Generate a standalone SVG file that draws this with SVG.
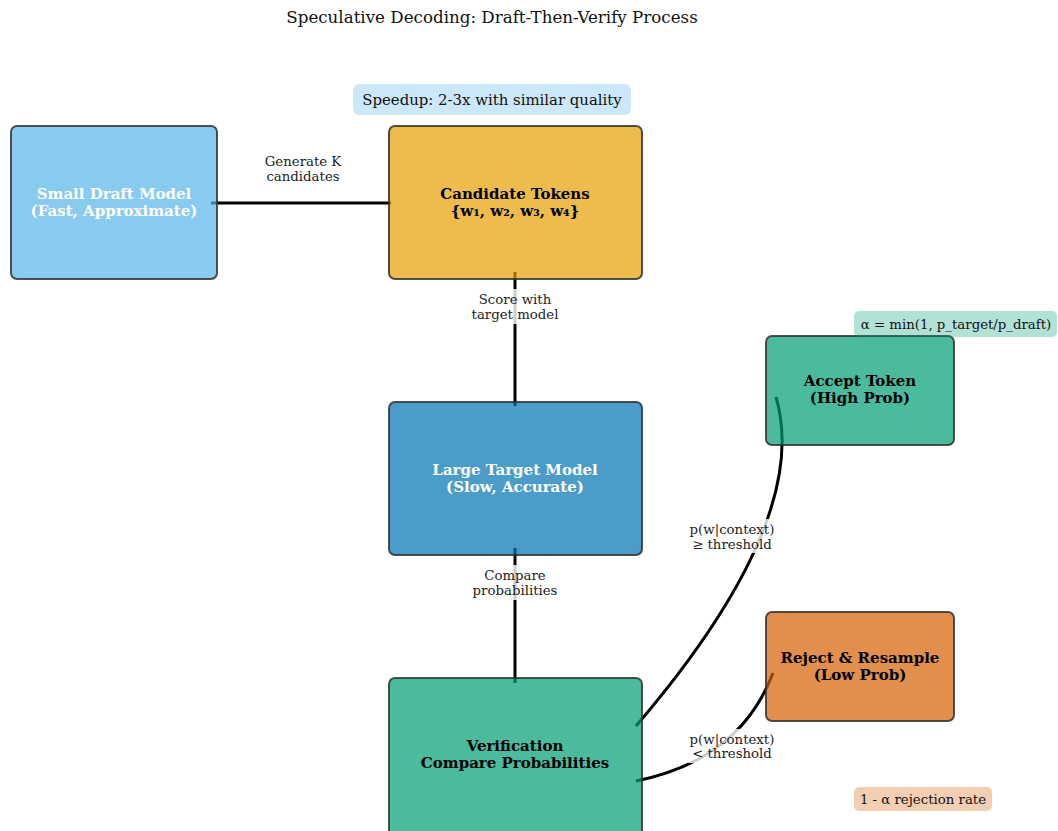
<svg xmlns="http://www.w3.org/2000/svg" width="1058" height="831" viewBox="0 0 1058 831">
<style>
text{font-family:"DejaVu Serif","Liberation Serif",serif;text-anchor:middle}
.title{font-size:16.7px;fill:#111}
.node{stroke:#333;stroke-opacity:0.85;stroke-width:2}
.nt{font-size:15px;font-weight:bold}
.w{fill:#fff}
.k{fill:#000}
.edge{fill:none;stroke:#000;stroke-width:3}
.el{font-size:13.3px;fill:#222}
.lbg{fill:#fff;fill-opacity:0.8}
.note{font-size:14.9px;fill:#111}
.sn{font-size:13.3px;fill:#111}
</style>
<rect width="1058" height="831" fill="#fff"/>
<text class="title" x="492" y="23">Speculative Decoding: Draft-Then-Verify Process</text>

<g id="connectors">
<path class="edge" d="M211,203 L391,203"/>
<path class="edge" d="M515,272 L515,406"/>
<path class="edge" d="M515,548 L515,683"/>
<path class="edge" d="M636,726 Q812,520 776,397"/>
<path class="edge" d="M636,781 Q740,760 773,673"/>
<text class="el" x="303" y="166">Generate K</text>
<text class="el" x="303" y="181">candidates</text>
<rect class="lbg" x="470" y="289" width="91" height="35"/>
<text class="el" x="515" y="304">Score with</text>
<text class="el" x="515" y="319">target model</text>
<rect class="lbg" x="471" y="565" width="89" height="35"/>
<text class="el" x="515" y="580">Compare</text>
<text class="el" x="515" y="595">probabilities</text>
<rect class="lbg" x="687" y="519" width="90" height="34"/>
<text class="el" x="732" y="534">p(w|context)</text>
<text class="el" x="732" y="549">≥ threshold</text>
<rect class="lbg" x="687" y="729" width="90" height="34"/>
<text class="el" x="732" y="744">p(w|context)</text>
<text class="el" x="732" y="758">&lt; threshold</text>
</g>

<g id="draft">
<rect class="node" x="11" y="126" width="206" height="153" rx="6" fill="#56B4E9" fill-opacity="0.7"/>
<text class="nt w" x="114" y="199">Small Draft Model</text>
<text class="nt w" x="114" y="216">(Fast, Approximate)</text>
</g>
<g id="candidates">
<rect class="node" x="389" y="126" width="253" height="153" rx="6" fill="#E69F00" fill-opacity="0.7"/>
<text class="nt k" x="515" y="199">Candidate Tokens</text>
<text class="nt k" x="515" y="216">{w₁, w₂, w₃, w₄}</text>
</g>
<g id="target">
<rect class="node" x="389" y="402" width="253" height="153" rx="6" fill="#0072B2" fill-opacity="0.7"/>
<text class="nt w" x="515" y="475">Large Target Model</text>
<text class="nt w" x="515" y="492">(Slow, Accurate)</text>
</g>
<g id="verification">
<rect class="node" x="389" y="678" width="253" height="160" rx="6" fill="#009E73" fill-opacity="0.7"/>
<text class="nt k" x="515" y="751">Verification</text>
<text class="nt k" x="515" y="768">Compare Probabilities</text>
</g>
<g id="accept">
<rect class="node" x="766" y="336" width="188" height="109" rx="6" fill="#009E73" fill-opacity="0.7"/>
<text class="nt k" x="860" y="386">Accept Token</text>
<text class="nt k" x="860" y="403">(High Prob)</text>
</g>
<g id="reject">
<rect class="node" x="766" y="612" width="188" height="109" rx="6" fill="#D55E00" fill-opacity="0.7"/>
<text class="nt k" x="860" y="663">Reject &amp; Resample</text>
<text class="nt k" x="860" y="680">(Low Prob)</text>
</g>

<g id="notes">
<rect x="353" y="84" width="278" height="31" rx="6" fill="#56B4E9" fill-opacity="0.3"/>
<text class="note" x="492" y="105">Speedup: 2-3x with similar quality</text>
<rect x="854" y="311" width="203" height="26" rx="5" fill="#009E73" fill-opacity="0.3"/>
<text class="sn" x="956" y="328.5">α = min(1, p_target/p_draft)</text>
<rect x="854" y="787" width="138" height="24" rx="5" fill="#D55E00" fill-opacity="0.3"/>
<text class="sn" x="923" y="803.5">1 - α rejection rate</text>
</g>
</svg>
